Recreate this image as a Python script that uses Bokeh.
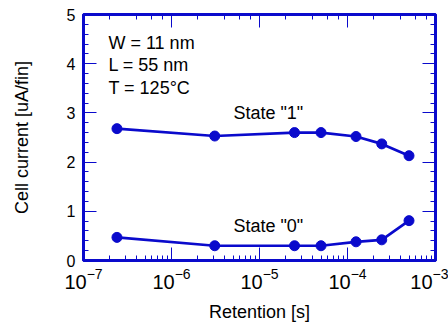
from bokeh.plotting import figure
from bokeh.models import LinearAxis, LogAxis, Label, SingleIntervalTicker, Range1d, ColumnDataSource
from bokeh.embed import file_html
from bokeh.resources import INLINE

# Data
retention_s = [2.4e-7, 3.1e-6, 2.5e-5, 5.0e-5, 1.25e-4, 2.45e-4, 5.0e-4]
state1_current = [2.68, 2.53, 2.60, 2.60, 2.52, 2.37, 2.13]
state0_current = [0.47, 0.30, 0.30, 0.30, 0.38, 0.42, 0.81]
series_labels = ['State "1"', 'State "0"']
info_lines = ["W = 11 nm", "L = 55 nm", "T = 125°C"]

BLUE = "#0a0acc"
FONT = "Liberation Sans"

p = figure(width=448, height=324, x_axis_type="log", output_backend="svg",
           toolbar_location=None, x_range=Range1d(1e-7, 1e-3), y_range=Range1d(0, 5),
           min_border_left=83, min_border_right=13, min_border_top=14, min_border_bottom=64)
p.grid.visible = False
p.outline_line_color = BLUE
p.outline_line_width = 3
p.background_fill_color = "white"
p.border_fill_color = "white"

p.yaxis.ticker = SingleIntervalTicker(interval=1, num_minor_ticks=5)

def style(ax, labels=True):
    ax.axis_line_color = BLUE
    ax.axis_line_width = 3
    ax.major_tick_line_color = BLUE
    ax.minor_tick_line_color = BLUE
    ax.major_tick_in = 13
    ax.major_tick_out = 0
    ax.minor_tick_in = 5
    ax.minor_tick_out = 0
    ax.major_label_text_font = FONT
    ax.major_label_text_font_size = "16px"
    ax.major_label_text_color = "black"
    ax.axis_label_text_font = FONT
    ax.axis_label_text_font_size = "18px"
    ax.axis_label_text_font_style = "normal"
    ax.axis_label_text_color = "black"
    if not labels:
        ax.major_label_text_font_size = "1px"
        ax.major_label_text_alpha = 0
        ax.major_label_standoff = 0

style(p.xaxis[0])
style(p.yaxis[0])
p.xaxis.major_label_text_font_size = "20px"
p.xaxis.axis_label = "Retention [s]"
p.yaxis.axis_label = "Cell current [uA/fin]"
p.xaxis.major_label_standoff = 7
p.yaxis.major_label_standoff = 8
p.xaxis.axis_label_standoff = 10
p.yaxis.axis_label_standoff = 32

top = LogAxis()
style(top, labels=False)
p.add_layout(top, "above")
right = LinearAxis(ticker=SingleIntervalTicker(interval=1, num_minor_ticks=5))
style(right, labels=False)
p.add_layout(right, "right")

s1 = ColumnDataSource(dict(x=retention_s, y=state1_current))
s0 = ColumnDataSource(dict(x=retention_s, y=state0_current))
for src in (s1, s0):
    p.line("x", "y", source=src, line_color=BLUE, line_width=2.7)
    p.scatter("x", "y", source=src, size=10, fill_color=BLUE, line_color=BLUE)

TS = "18px"
p.add_layout(Label(x=1.26e-5, y=3.0, text=series_labels[0], text_align="center",
                   text_baseline="alphabetic",
                   text_font=FONT, text_font_size=TS, text_color="black"))
p.add_layout(Label(x=1.26e-5, y=0.71, text=series_labels[1], text_align="center",
                   text_baseline="alphabetic",
                   text_font=FONT, text_font_size=TS, text_color="black"))
for i, t in enumerate(info_lines):
    p.add_layout(Label(x=1.92e-7, y=4.43 - 0.46 * i, text=t, text_align="left",
                       text_baseline="alphabetic",
                       text_font=FONT, text_font_size=TS, text_color="black"))

open("out.html", "w").write(file_html(p, INLINE))
